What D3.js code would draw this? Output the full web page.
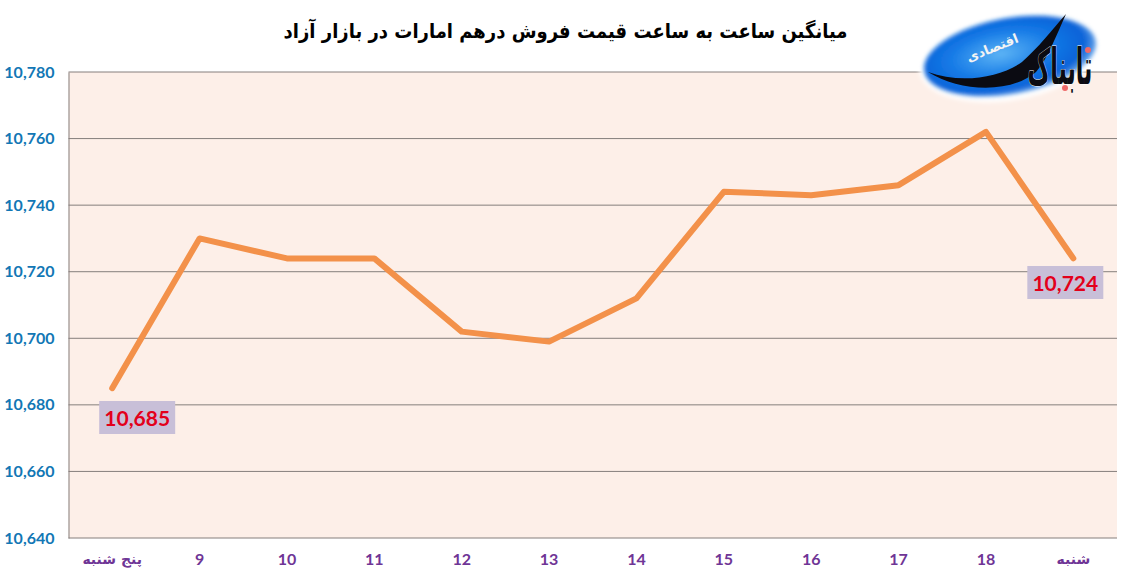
<!DOCTYPE html>
<html lang="fa">
<head>
<meta charset="utf-8">
<style>
  html, body { margin: 0; padding: 0; background: #fff; }
  svg { display: block; }
  .num { font-family: Lato, "Open Sans", sans-serif; font-weight: 700; }
  .fa { font-family: "DejaVu Sans", sans-serif; font-weight: 700; }
</style>
</head>
<body>
<svg id="chart" width="1130" height="582"></svg>
<script src="https://cdn.jsdelivr.net/npm/d3@7"></script>
<script>
// data
const categories = ["پنج شنبه", "9", "10", "11", "12", "13", "14", "15", "16", "17", "18", "شنبه"];
const prices = [10685, 10730, 10724, 10724, 10702, 10699, 10712, 10744, 10743, 10746, 10762, 10724];
const yTicks = [10640, 10660, 10680, 10700, 10720, 10740, 10760, 10780];
const labelled = [
  { index: 0, dx: 25, y: 418 },
  { index: 11, dx: -8, y: 283 }
];
const chartTitle = "میانگین ساعت به ساعت قیمت فروش درهم امارات در بازار آزاد";

const margin = { top: 72, right: 13, bottom: 44, left: 68.5 };
const width = 1130, height = 582;

const svg = d3.select("#chart");

const x = d3.scaleBand().domain(categories).range([margin.left, width - margin.right]);
const y = d3.scaleLinear().domain([10640, 10780]).range([height - margin.bottom, margin.top]);
const fmt = d3.format(",");

// plot background
svg.append("rect")
  .attr("x", margin.left).attr("y", margin.top)
  .attr("width", width - margin.left - margin.right)
  .attr("height", height - margin.top - margin.bottom)
  .attr("fill", "#fdefe8");

// grid lines
svg.append("g").selectAll("line")
  .data(yTicks)
  .join("line")
  .attr("x1", margin.left).attr("x2", width - margin.right)
  .attr("y1", d => y(d)).attr("y2", d => y(d))
  .attr("stroke", "#857f7c").attr("stroke-width", 1);

// axes
const yAxis = svg.append("g")
  .attr("transform", `translate(${margin.left},0)`)
  .call(d3.axisLeft(y).tickValues(yTicks).tickFormat(fmt).tickSize(0).tickPadding(14));
yAxis.select(".domain").attr("stroke", "#857f7c");
yAxis.selectAll("text")
  .attr("class", "num")
  .attr("fill", "#1277b5")
  .style("font-size", "16px");

const xAxis = svg.append("g")
  .attr("transform", `translate(0,${height - margin.bottom})`)
  .call(d3.axisBottom(x).tickSize(0).tickPadding(16));
xAxis.select(".domain").remove();
xAxis.selectAll("text")
  .attr("class", d => (isNaN(+d) ? "fa" : "num"))
  .attr("fill", "#6f3596")
  .style("font-size", d => (isNaN(+d) ? "14px" : "16px"));

// price line
const line = d3.line()
  .x((d, i) => x(categories[i]) + x.bandwidth() / 2)
  .y(d => y(d));

svg.append("path")
  .datum(prices)
  .attr("d", line)
  .attr("fill", "none")
  .attr("stroke", "#f3914a")
  .attr("stroke-width", 6)
  .attr("stroke-linecap", "round")
  .attr("stroke-linejoin", "round");

// end labels
const labelGroups = svg.append("g").selectAll("g")
  .data(labelled)
  .join("g")
  .attr("transform", d => `translate(${x(categories[d.index]) + x.bandwidth() / 2 + d.dx},${d.y})`);

labelGroups.append("rect")
  .attr("x", -38).attr("y", -17)
  .attr("width", 76).attr("height", 33)
  .attr("fill", "#c8bfd8");

labelGroups.append("text")
  .attr("class", "num")
  .attr("text-anchor", "middle")
  .attr("y", 8)
  .attr("fill", "#e3001b")
  .style("font-size", "21px")
  .text(d => fmt(prices[d.index]));

// title
svg.append("text")
  .attr("class", "fa")
  .attr("transform", "translate(565.5,38) scale(0.9,1)")
  .attr("text-anchor", "middle")
  .attr("direction", "rtl")
  .attr("fill", "#000")
  .style("font-size", "20px")
  .text(chartTitle);

// logo
const defs = svg.append("defs");
const glow = defs.append("radialGradient").attr("id", "logoBlue")
  .attr("cx", "45%").attr("cy", "45%").attr("r", "55%");
glow.append("stop").attr("offset", "0%").attr("stop-color", "#5db4f5");
glow.append("stop").attr("offset", "55%").attr("stop-color", "#1479e6");
glow.append("stop").attr("offset", "88%").attr("stop-color", "#0a62d8");
glow.append("stop").attr("offset", "100%").attr("stop-color", "#5a9ce8");
defs.append("filter").attr("id", "logoBlur")
  .append("feGaussianBlur").attr("stdDeviation", 2);

const logo = svg.append("g");
logo.append("ellipse")
  .attr("cx", 1010).attr("cy", 56).attr("rx", 92).attr("ry", 44)
  .attr("transform", "rotate(-10 1010 56)")
  .attr("fill", "#fff")
  .attr("filter", "url(#logoBlur)");
logo.append("ellipse")
  .attr("cx", 1010).attr("cy", 56).attr("rx", 87).attr("ry", 38)
  .attr("transform", "rotate(-10 1010 56)")
  .attr("fill", "url(#logoBlue)")
  .attr("filter", "url(#logoBlur)");
logo.append("path")
  .attr("d", "M928,72 C960,84 1000,78 1022,62 C1038,48 1052,30 1066,14 C1056,36 1048,58 1036,72 C1010,94 960,92 928,72 Z")
  .attr("fill", "#0b0b12");
logo.append("text")
  .attr("class", "fa")
  .attr("transform", "translate(1060,84) scale(0.85,1.9)")
  .attr("text-anchor", "middle")
  .attr("fill", "#0b0b12")
  .attr("stroke", "#fff").attr("stroke-width", 0.5).attr("paint-order", "stroke")
  .style("font-size", "26px")
  .text("تابناک");
logo.append("text")
  .attr("class", "fa")
  .attr("transform", "translate(994,52) rotate(-22)")
  .attr("text-anchor", "middle")
  .attr("fill", "#f4f4f4")
  .style("font-size", "13px")
  .text("اقتصادی");
logo.selectAll("circle.dot")
  .data([[1088, 50], [1065, 88]])
  .join("circle")
  .attr("class", "dot")
  .attr("cx", d => d[0]).attr("cy", d => d[1]).attr("r", 3)
  .attr("fill", "#ef6a6a");
</script>
</body>
</html>
